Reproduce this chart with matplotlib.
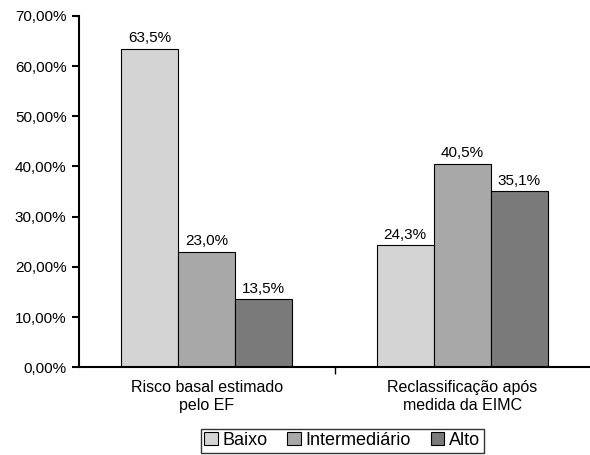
import numpy as np
import matplotlib
matplotlib.use("Agg")
import matplotlib.pyplot as plt
from matplotlib.ticker import FuncFormatter

plt.rcParams["font.family"] = ["Liberation Sans", "DejaVu Sans"]

categories = ["Risco basal estimado\npelo EF", "Reclassificação após\nmedida da EIMC"]
series = ["Baixo", "Intermediário", "Alto"]
baixo = [63.5, 24.3]
intermediario = [23.0, 40.5]
alto = [13.5, 35.1]
colors = ["#d4d4d4", "#a8a8a8", "#7a7a7a"]

fig = plt.figure(figsize=(5.9, 4.55), dpi=100)
ax = fig.add_axes([0.134, 0.193, 0.866, 0.772])

x = np.arange(len(categories))
w = 0.223
for i, (name, vals) in enumerate(zip(series, [baixo, intermediario, alto])):
    pos = x + (i - 1) * w
    ax.bar(pos, vals, w, color=colors[i], edgecolor="black", linewidth=0.8, label=name)
    for xi, v in zip(pos, vals):
        ax.text(xi, v + 0.7, f"{v:.1f}%".replace(".", ","), ha="center", va="bottom", fontsize=11)

ax.set_xlim(-0.5, 1.5)
ax.set_ylim(0, 70)
ax.set_yticks(np.arange(0, 71, 10))
ax.yaxis.set_major_formatter(FuncFormatter(lambda v, p: f"{v:.2f}%".replace(".", ",")))
ax.set_xticks([0.5])
ax.set_xticklabels([""])
for xi, lab in zip(x, categories):
    ax.text(xi, -2.6, lab, ha="center", va="top", fontsize=11.5, linespacing=1.25)

ax.spines["top"].set_visible(False)
ax.spines["right"].set_visible(False)
ax.spines["left"].set_linewidth(1.5)
ax.spines["bottom"].set_linewidth(1.5)
ax.tick_params(axis="y", direction="out", length=5, width=1.5, labelsize=11, pad=4)
ax.tick_params(axis="x", direction="out", length=5, width=1.0)

leg = fig.legend(loc="upper center", bbox_to_anchor=(0.58, 0.078), ncol=3, fontsize=13,
                 frameon=True, fancybox=False, edgecolor="black", handlelength=0.75,
                 handleheight=0.75, handletextpad=0.25, columnspacing=1.1, borderpad=0.2)
leg.get_frame().set_linewidth(1.0)

fig.savefig("out.png", dpi=100)
